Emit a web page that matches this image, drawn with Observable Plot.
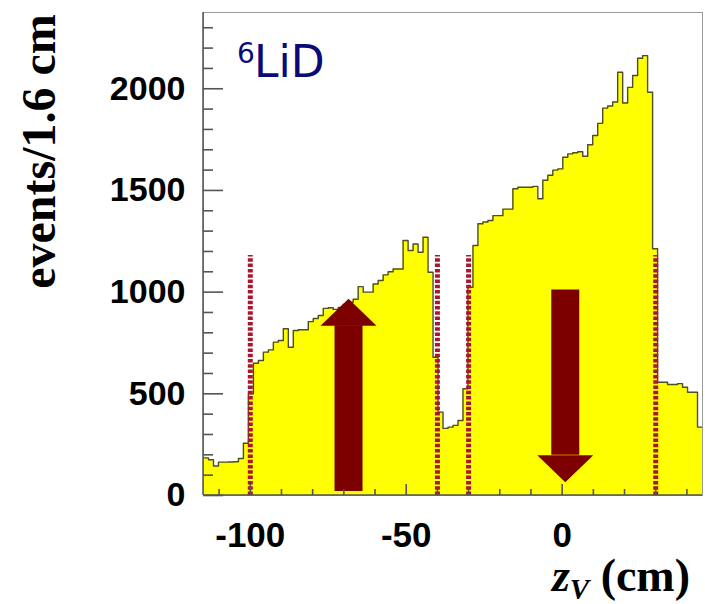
<!DOCTYPE html>
<html>
<head>
<meta charset="utf-8">
<script src="https://cdn.jsdelivr.net/npm/d3@7"></script>
<script src="https://cdn.jsdelivr.net/npm/@observablehq/plot@0.6"></script>
<style>
  body { margin: 0; background: #fff; }
  svg { display: block; }
</style>
</head>
<body>
<div id="chart"></div>
<script>
// Vertex z distribution for the 6LiD target, 1.6 cm bins from -115 to 45 cm
const binStart = -115;
const binWidth = 1.6;
const counts = [
  185, 176, 145, 164, 164, 165, 166, 182, 257, 500,
  650, 664, 705, 716, 754, 762, 820, 729, 811, 815,
  815, 855, 870, 885, 920, 923, 915, 925, 940, 950,
  965, 1027, 1000, 1000, 1040, 1057, 1085, 1100, 1114, 1114,
  1254, 1205, 1237, 1196, 1270, 1098, 680, 410, 330, 336,
  345, 369, 525, 1024, 1229, 1336, 1345, 1352, 1376, 1376,
  1408, 1408, 1508, 1516, 1516, 1516, 1520, 1459, 1550, 1575,
  1600, 1606, 1663, 1680, 1685, 1690, 1668, 1725, 1770, 1830,
  1905, 1915, 1935, 2081, 1930, 2007, 2065, 2150, 2163, 1983,
  1213, 557, 557, 546, 546, 550, 532, 508, 508, 336
];

// target-cell boundaries (dotted lines) and their drawn height
const cutPositions = [-100, -40, -30, 30];
const cutHeight = 1180;

// polarisation arrows of the upstream / downstream cells
const arrowUp = [{z: -68.5, top: 967, bottom: 20}];
const arrowDown = [{z: 1, top: 1011, bottom: 65}];

// axis ticks
const yMajor = [0, 500, 1000, 1500, 2000];
const yMinor = [100, 200, 300, 400, 600, 700, 800, 900, 1100, 1200, 1300, 1400,
                1600, 1700, 1800, 1900, 2100, 2200, 2300];
const xMajor = [-100, -50, 0];
const xMinor = [-110, -90, -80, -70, -60, -40, -30, -20, -10, 10, 20, 30, 40];

const yDomain = [0, 2375];
const xDomain = [-115, 45];

const hist = counts.map((n, i) => ({z: binStart + i * binWidth, n}));
hist.push({z: binStart + counts.length * binWidth, n: counts[counts.length - 1]});

const W = 705, H = 604;
const mL = 203, mR = 3, mT = 12, mB = 109;

const arrowColor = "#7d0000";
const headUp = {draw(ctx) { ctx.moveTo(0, 0); ctx.lineTo(28, 27); ctx.lineTo(-28, 27); ctx.closePath(); }};
const headDown = {draw(ctx) { ctx.moveTo(0, 0); ctx.lineTo(28, -27); ctx.lineTo(-28, -27); ctx.closePath(); }};
const noLabel = () => "";

const chart = Plot.plot({
  width: W,
  height: H,
  marginLeft: mL,
  marginRight: mR,
  marginTop: mT,
  marginBottom: mB,
  style: {fontFamily: "'Liberation Sans', Arial, sans-serif", background: "#fff", color: "#000"},
  x: {domain: xDomain},
  y: {domain: yDomain},
  marks: [
    Plot.areaY(hist, {x: "z", y: "n", curve: "step-after", fill: "#ffff00"}),
    Plot.lineY(hist, {x: "z", y: "n", curve: "step-after", stroke: "#4d4d26", strokeWidth: 1.4}),
    Plot.ruleX(cutPositions, {x: d => d, y1: 0, y2: cutHeight, stroke: "#a8172e", strokeWidth: 5, strokeDasharray: "3.5,1.8"}),
    Plot.ruleX(arrowUp, {x: "z", y1: "top", y2: "bottom", stroke: arrowColor, strokeWidth: 28, insetTop: 27}),
    Plot.dot(arrowUp, {x: "z", y: "top", symbol: headUp, fill: arrowColor, stroke: null}),
    Plot.ruleX(arrowDown, {x: "z", y1: "top", y2: "bottom", stroke: arrowColor, strokeWidth: 28, insetBottom: 27}),
    Plot.dot(arrowDown, {x: "z", y: "bottom", symbol: headDown, fill: arrowColor, stroke: null}),
    Plot.frame({stroke: "#9a9a9a"}),
    // inward ticks: axis marks with a negative tick size point into the frame
    Plot.axisY({ticks: yMajor, tickSize: -20, tickFormat: noLabel, stroke: "#555", strokeWidth: 1.6, label: null}),
    Plot.axisY({ticks: yMinor, tickSize: -10, tickFormat: noLabel, stroke: "#555", strokeWidth: 1.6, label: null}),
    Plot.axisX({ticks: xMajor, tickSize: -11, tickFormat: noLabel, stroke: "#555", strokeWidth: 1.6, label: null}),
    Plot.axisX({ticks: xMinor, tickSize: -6, tickFormat: noLabel, stroke: "#555", strokeWidth: 1.6, label: null}),
    Plot.axisY({ticks: yMajor, tickSize: 0, tickPadding: 18, tickFormat: d => String(d),
      fontSize: 34, fontWeight: "bold", label: null}),
    Plot.axisX({ticks: xMajor, tickSize: 0, tickPadding: 27, tickFormat: d => String(d),
      fontSize: 35, fontWeight: "bold", label: null})
  ]
});

const svg = d3.select(chart);

// left and bottom axis lines
svg.append("line").attr("x1", mL).attr("x2", mL).attr("y1", mT).attr("y2", H - mB)
  .attr("stroke", "#555").attr("stroke-width", 1.5);
svg.append("line").attr("x1", mL).attr("x2", W - mR).attr("y1", H - mB).attr("y2", H - mB)
  .attr("stroke", "#555").attr("stroke-width", 1.5);

// y axis title
svg.append("text")
  .attr("transform", "translate(55,151.5) rotate(-90)")
  .attr("text-anchor", "middle")
  .style("font-family", "'Liberation Serif', 'Times New Roman', serif")
  .style("font-weight", "bold")
  .style("font-size", "48px")
  .attr("fill", "#000")
  .text("events/1.6 cm");

// x axis title: z_V (cm)
const xt = svg.append("text")
  .attr("x", 690).attr("y", 591)
  .attr("text-anchor", "end")
  .style("font-family", "'Liberation Serif', 'Times New Roman', serif")
  .style("font-weight", "bold")
  .style("font-size", "46px")
  .attr("fill", "#000");
xt.append("tspan").style("font-style", "italic").text("z");
xt.append("tspan").style("font-style", "italic").style("font-size", "29px").attr("dy", 8).text("V");
xt.append("tspan").attr("dy", -8).text(" (cm)");

// target label
svg.append("text").attr("x", 237).attr("y", 63).attr("text-anchor", "start")
  .style("font-family", "'DejaVu Sans', Verdana, sans-serif").style("font-size", "28px")
  .attr("fill", "#0a0a78").text("6");
svg.append("text").attr("x", 254).attr("y", 77).attr("text-anchor", "start")
  .style("font-family", "'DejaVu Sans', Verdana, sans-serif").style("font-size", "44px")
  .attr("fill", "#0a0a78").text("LiD");

document.getElementById("chart").appendChild(chart);
</script>
</body>
</html>
